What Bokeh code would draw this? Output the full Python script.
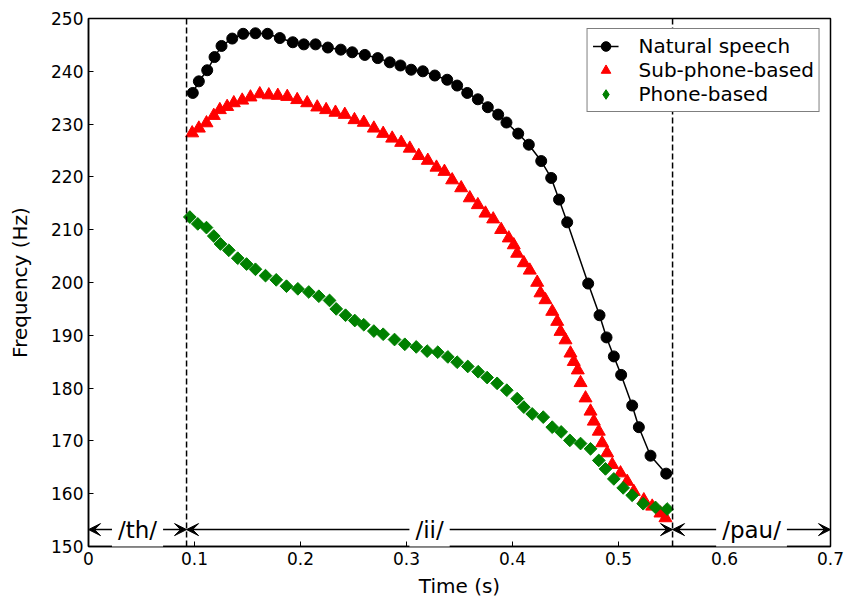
from bokeh.plotting import figure
from bokeh.models import Span, Arrow, VeeHead, Label, Legend, LegendItem, FixedTicker, Range1d
from bokeh.embed import file_html
from bokeh.resources import INLINE

# ---- data ----
natural_t = [0.0984, 0.1041, 0.1120, 0.1189, 0.1255, 0.1356, 0.1459, 0.1575, 0.1689, 0.1805,
             0.1927, 0.2031, 0.2142, 0.2258, 0.2380, 0.2488, 0.2607, 0.2729, 0.2842, 0.2943,
             0.3044, 0.3154, 0.3267, 0.3384, 0.3478, 0.3573, 0.3673, 0.3767, 0.3865, 0.3943,
             0.4054, 0.4154, 0.4271, 0.4365, 0.4439, 0.4516, 0.4714, 0.4821, 0.4887, 0.4956,
             0.5025, 0.5129, 0.5192, 0.5302, 0.5450]
natural_f = [235.9, 238.1, 240.2, 242.7, 244.8, 246.2, 247.1, 247.2, 247.1, 246.3,
             245.5, 245.1, 245.1, 244.5, 244.1, 243.6, 243.1, 242.5, 241.7, 241.1,
             240.3, 240.0, 239.2, 238.4, 237.3, 235.9, 234.7, 233.2, 231.8, 230.3,
             228.2, 226.1, 223.0, 219.8, 215.7, 211.4, 199.8, 193.8, 189.6, 186.0,
             182.5, 176.7, 172.6, 167.2, 163.8]

sub_t = [0.0978, 0.1041, 0.1113, 0.1182, 0.1239, 0.1308, 0.1371, 0.1450, 0.1528, 0.1616,
         0.1701, 0.1786, 0.1875, 0.1969, 0.2063, 0.2158, 0.2242, 0.2330, 0.2418, 0.2509,
         0.2597, 0.2692, 0.2780, 0.2865, 0.2950, 0.3031, 0.3116, 0.3201, 0.3283, 0.3358,
         0.3431, 0.3516, 0.3597, 0.3673, 0.3745, 0.3818, 0.3893, 0.3965, 0.4012, 0.4044,
         0.4107, 0.4163, 0.4233, 0.4264, 0.4311, 0.4375, 0.4422, 0.4453, 0.4500, 0.4547,
         0.4578, 0.4616, 0.4642, 0.4689, 0.4736, 0.4767, 0.4814, 0.4846, 0.4893, 0.4941,
         0.5019, 0.5082, 0.5144, 0.5239, 0.5318, 0.5396, 0.5443]
sub_f = [228.3, 229.2, 230.2, 231.6, 232.7, 233.3, 234.0, 234.5, 235.1, 235.7,
         235.5, 235.4, 235.2, 234.6, 234.0, 233.2, 232.7, 232.2, 231.8, 230.8,
         230.3, 229.2, 228.2, 227.3, 226.5, 225.4, 224.0, 223.1, 221.8, 221.0,
         219.4, 217.9, 216.0, 214.7, 213.1, 212.0, 210.0, 208.4, 207.1, 205.5,
         203.7, 202.3, 200.0, 198.0, 196.7, 194.5, 192.6, 190.7, 189.1, 186.6,
         185.0, 183.4, 181.0, 178.1, 175.6, 173.7, 171.8, 169.6, 167.7, 165.5,
         163.9, 162.3, 160.4, 158.8, 157.6, 156.3, 155.4]

phone_t = [0.0956, 0.1031, 0.1113, 0.1182, 0.1245, 0.1324, 0.1408, 0.1491, 0.1575, 0.1670,
           0.1771, 0.1868, 0.1975, 0.2078, 0.2173, 0.2274, 0.2337, 0.2425, 0.2512, 0.2597,
           0.2692, 0.2780, 0.2887, 0.2984, 0.3092, 0.3195, 0.3295, 0.3390, 0.3478, 0.3578,
           0.3676, 0.3761, 0.3855, 0.3946, 0.4044, 0.4107, 0.4186, 0.4290, 0.4375, 0.4459,
           0.4541, 0.4642, 0.4736, 0.4814, 0.4877, 0.4956, 0.5044, 0.5129, 0.5233, 0.5349,
           0.5459]
phone_f = [212.4, 211.1, 210.4, 208.8, 207.3, 206.1, 204.6, 203.5, 202.5, 201.3,
           200.5, 199.3, 198.8, 198.2, 197.4, 196.6, 195.0, 193.8, 192.8, 192.0,
           190.8, 190.2, 189.2, 188.3, 187.8, 187.0, 186.8, 185.9, 184.9, 184.1,
           183.1, 182.0, 180.9, 179.6, 178.0, 176.4, 175.1, 174.5, 172.6, 171.7,
           170.1, 169.5, 168.5, 166.3, 164.7, 162.8, 161.1, 159.7, 158.1, 157.4,
           157.1]

boundaries = [0.0, 0.0925, 0.551, 0.7]
phone_labels = ["/th/", "/ii/", "/pau/"]
arrow_f = 153.2

x_ticks = [0.0, 0.1, 0.2, 0.3, 0.4, 0.5, 0.6, 0.7]
x_tick_labels = ["0", "0.1", "0.2", "0.3", "0.4", "0.5", "0.6", "0.7"]
y_ticks = [150, 160, 170, 180, 190, 200, 210, 220, 230, 240, 250]

FONT = "DejaVu Sans"

p = figure(width=846, height=602, output_backend="svg", toolbar_location=None,
           x_range=Range1d(0, 0.7), y_range=Range1d(150, 250),
           min_border_left=88, min_border_right=16, min_border_top=18, min_border_bottom=56)
p.background_fill_color = "white"
p.border_fill_color = "white"
p.outline_line_color = "black"
p.outline_line_width = 1.5
p.xgrid.visible = False
p.ygrid.visible = False

for ax in (p.xaxis[0], p.yaxis[0]):
    ax.axis_line_color = "black"
    ax.axis_line_width = 1.5
    ax.major_tick_in = 5
    ax.major_tick_out = 0
    ax.minor_tick_line_color = None
    ax.major_tick_line_color = "black"
    ax.major_label_text_font = FONT
    ax.major_label_text_font_size = "17px"
    ax.major_label_text_color = "black"
    ax.axis_label_text_font = FONT
    ax.axis_label_text_font_size = "20px"
    ax.axis_label_text_font_style = "normal"
    ax.axis_label_text_color = "black"

p.xaxis.ticker = FixedTicker(ticks=x_ticks)
p.xaxis.major_label_overrides = {t: l for t, l in zip(x_ticks, x_tick_labels)}
p.yaxis.ticker = FixedTicker(ticks=y_ticks)
p.xaxis.axis_label = "Time (s)"
p.yaxis.axis_label = "Frequency (Hz)"
p.xaxis.axis_label_standoff = 6
p.yaxis.axis_label_standoff = 16

# boundary dashed lines
for b in boundaries[1:-1]:
    p.add_layout(Span(location=b, dimension="height", line_color="black",
                      line_dash="6 3", line_width=1.5))

# data
nat_line = p.line(natural_t, natural_f, line_color="black", line_width=1.5)
nat_mk = p.scatter(natural_t, natural_f, marker="circle", size=11,
                   fill_color="black", line_color="black")
sub_mk = p.scatter(sub_t, sub_f, marker="triangle", size=13,
                   fill_color="#ff0000", line_color="#ff0000")
# legend glyph for the diamond series (legend ignores marker rotation);
# drawn underneath the rotated squares so it stays hidden in the plot
ph_legend = p.scatter(phone_t[:1], phone_f[:1], marker="diamond", size=11,
                      fill_color="#008000", line_color="#008000")
ph_mk = p.scatter(phone_t, phone_f, marker="square", angle=0.785398, size=9,
                  fill_color="#008000", line_color="#008000")

# phoneme arrows + labels
for i, lab in enumerate(phone_labels):
    a, b = boundaries[i], boundaries[i + 1]
    p.add_layout(Arrow(x_start=a, y_start=arrow_f, x_end=b, y_end=arrow_f,
                       line_color="black", line_width=1.5,
                       start=VeeHead(size=12, fill_color="black", line_color="black"),
                       end=VeeHead(size=12, fill_color="black", line_color="black")))
for i, lab in enumerate(phone_labels):
    a, b = boundaries[i], boundaries[i + 1]
    p.add_layout(Label(x=(a + b) / 2, y=arrow_f, text=lab, text_align="center",
                       text_baseline="middle", text_font=FONT, text_font_size="23px",
                       text_color="black", background_fill_color="white", padding=6))

legend = Legend(items=[
    LegendItem(label="Natural speech", renderers=[nat_line, nat_mk]),
    LegendItem(label="Sub-phone-based", renderers=[sub_mk]),
    LegendItem(label="Phone-based", renderers=[ph_legend]),
], location="top_right")
legend.label_text_font = FONT
legend.label_text_font_size = "20px"
legend.label_text_color = "black"
legend.border_line_color = "black"
legend.border_line_width = 1.5
legend.background_fill_color = "white"
legend.background_fill_alpha = 1.0
legend.padding = 5
legend.spacing = 0
legend.margin = 10
legend.glyph_width = 26
legend.glyph_height = 24
legend.label_height = 24
legend.label_standoff = 20
p.add_layout(legend)

open("out.html", "w").write(file_html(p, INLINE))
